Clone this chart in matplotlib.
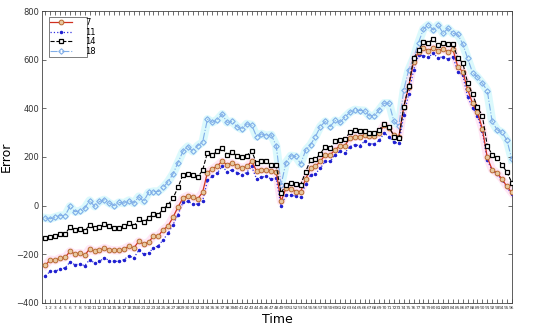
import matplotlib
matplotlib.use("Agg")
import matplotlib.pyplot as plt
import numpy as np

# time steps 1..96
time_labels = [str(i) for i in range(1, 97)]

err_7 = [-245, -222, -225, -215, -213, -188, -199, -195, -204, -178,
         -188, -184, -174, -181, -184, -184, -178, -167, -174, -147,
         -158, -150, -126, -124, -99, -83, -47, -6, 31, 41,
         34, 28, 54, 136, 150, 164, 182, 168, 175, 164,
         154, 161, 182, 143, 148, 148, 143, 140, 17, 72,
         69, 58, 58, 109, 154, 161, 182, 209, 209, 229,
         247, 247, 277, 284, 284, 291, 287, 287, 298, 332,
         318, 291, 284, 407, 489, 592, 633, 647, 637, 647,
         637, 643, 633, 643, 571, 551, 478, 421, 384, 316,
         199, 148, 134, 110, 79, 54]

err_11 = [-288, -270, -270, -260, -256, -232, -243, -240, -247, -222,
          -236, -229, -215, -226, -229, -229, -222, -206, -215, -184,
          -199, -195, -174, -165, -140, -113, -78, -37, 13, 17,
          8, 6, 17, 104, 120, 134, 161, 140, 147, 136,
          127, 136, 161, 110, 117, 120, 109, 113, -3, 45,
          45, 38, 35, 89, 127, 131, 154, 182, 182, 209,
          223, 216, 243, 250, 247, 264, 254, 254, 268, 298,
          284, 260, 257, 373, 458, 558, 619, 617, 610, 626,
          606, 613, 602, 613, 551, 537, 448, 403, 369, 305,
          188, 145, 130, 106, 75, 47]

err_14 = [-135, -129, -126, -117, -117, -88, -99, -96, -103, -81,
          -92, -89, -77, -85, -94, -91, -85, -72, -85, -54,
          -69, -51, -35, -37, -14, 4, 31, 75, 127, 131,
          124, 116, 145, 218, 209, 223, 238, 209, 221, 205,
          199, 206, 225, 175, 182, 182, 165, 165, 52, 86,
          93, 89, 86, 139, 188, 191, 213, 243, 236, 264,
          270, 273, 301, 312, 308, 308, 298, 298, 312, 336,
          325, 284, 277, 407, 492, 606, 640, 671, 670, 685,
          660, 667, 663, 665, 606, 588, 505, 458, 405, 370,
          247, 209, 195, 168, 138, 95]

err_18 = [-51, -54, -47, -41, -41, -3, -25, -22, -10, 21,
          -3, 17, 24, 10, 0, 13, 10, 21, 10, 37,
          17, 54, 58, 58, 75, 99, 131, 177, 223, 243,
          223, 246, 260, 355, 342, 353, 376, 342, 346, 325,
          314, 336, 332, 284, 295, 287, 291, 247, 86, 177,
          205, 202, 172, 227, 250, 284, 325, 346, 325, 350,
          342, 364, 383, 394, 391, 390, 369, 369, 394, 421,
          421, 346, 328, 476, 558, 606, 670, 726, 743, 722,
          743, 708, 729, 708, 704, 665, 606, 547, 528, 503,
          473, 346, 312, 301, 270, 191]

x = np.arange(1, len(time_labels) + 1)

fig = plt.figure(figsize=(5.5, 3.34), dpi=100)
ax = fig.add_axes([0.0764, 0.093, 0.855, 0.874])

# soft halos seen behind two of the series
ax.plot(x, err_18, color="#cdf7fc", linewidth=6, alpha=0.7, zorder=1)
ax.plot(x, err_7, color="#ffdcf2", linewidth=6, alpha=0.7, zorder=1)

ax.plot(x, err_7, color="#d03020", linestyle="-", linewidth=0.9,
        marker="o", ms=3.4, markerfacecolor="#e8c8a0",
        markeredgecolor="#b86a30", markeredgewidth=0.7, label="7", zorder=4)
ax.plot(x, err_11, color="#3030e0", linestyle=":", linewidth=0.9,
        marker=".", ms=3, markerfacecolor="#2020d0",
        markeredgecolor="#2020d0", label="11", zorder=3)
ax.plot(x, err_14, color="black", linestyle="--", linewidth=0.8,
        marker="s", ms=3.4, markerfacecolor="white",
        markeredgecolor="black", markeredgewidth=0.9, label="14", zorder=5)
ax.plot(x, err_18, color="#80aee8", linestyle="-.", linewidth=0.8,
        marker="D", ms=2.8, markerfacecolor="none",
        markeredgecolor="#80aee8", markeredgewidth=0.8, label="18", zorder=2)

ax.set_xlim(0.3, 96.1)
ax.set_ylim(-400, 800)
ax.set_yticks(np.arange(-400, 801, 200))
ax.set_xticks(x)
ax.set_xticklabels(time_labels, fontsize=3.2)
ax.tick_params(axis="y", labelsize=6, direction="in", right=True,
               length=3, width=0.5, colors="#333333", pad=2)
ax.tick_params(axis="x", direction="in", top=True, length=3,
               width=0.5, colors="#333333", pad=2.5)
for s in ax.spines.values():
    s.set_linewidth(0.6)
    s.set_color("#444444")

ax.set_xlabel("Time", fontsize=9, labelpad=2)
ax.set_ylabel("Error", fontsize=9, labelpad=3)

leg = ax.legend(loc="upper left", fontsize=6, handlelength=2.6,
                borderpad=0.2, labelspacing=0.05, handletextpad=0.4,
                fancybox=False, edgecolor="#444444", markerfirst=True,
                bbox_to_anchor=(0.005, 0.995))
leg.get_frame().set_linewidth(0.6)
for t in leg.get_texts():
    t.set_ha("right")
    t.set_position((10, 0))

fig.savefig("out.png", dpi=100)
